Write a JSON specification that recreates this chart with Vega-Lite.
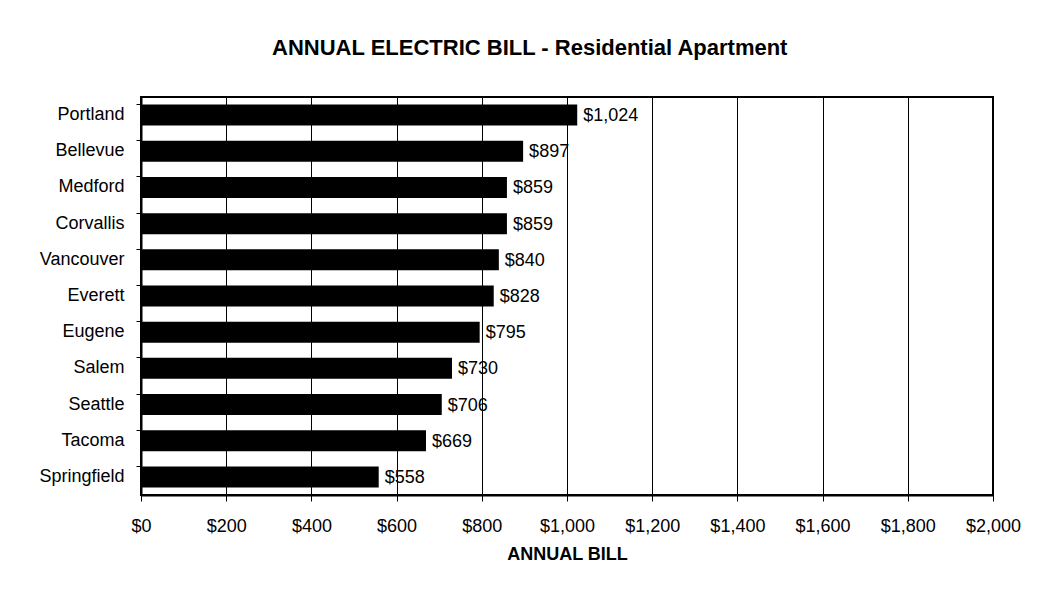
{
  "$schema": "https://vega.github.io/schema/vega-lite/v6.json",
  "autosize": "none",
  "width": 852,
  "height": 398,
  "padding": {"left": 141, "top": 97, "right": 51, "bottom": 103},
  "background": "white",
  "title": {
    "text": "ANNUAL ELECTRIC BILL - Residential Apartment",
    "font": "Liberation Sans",
    "fontSize": 22,
    "fontWeight": "bold",
    "color": "black",
    "anchor": "middle",
    "frame": "bounds",
    "offset": 37
  },
  "data": {
    "values": [
      {"city": "Portland", "bill": 1024},
      {"city": "Bellevue", "bill": 897},
      {"city": "Medford", "bill": 859},
      {"city": "Corvallis", "bill": 859},
      {"city": "Vancouver", "bill": 840},
      {"city": "Everett", "bill": 828},
      {"city": "Eugene", "bill": 795},
      {"city": "Salem", "bill": 730},
      {"city": "Seattle", "bill": 706},
      {"city": "Tacoma", "bill": 669},
      {"city": "Springfield", "bill": 558}
    ]
  },
  "encoding": {
    "y": {
      "field": "city",
      "type": "nominal",
      "sort": null,
      "scale": {"paddingInner": 0.42, "paddingOuter": 0.21},
      "axis": {
        "title": null,
        "bandPosition": 0,
        "tickSize": 5,
        "tickColor": "black",
        "tickWidth": 1,
        "domainColor": "black",
        "domainWidth": 2,
        "labelFont": "Liberation Sans",
        "labelFontSize": 18,
        "labelColor": "black",
        "labelPadding": 12,
        "grid": false
      }
    },
    "x": {
      "field": "bill",
      "type": "quantitative",
      "scale": {"domain": [0, 2000], "nice": false},
      "axis": {
        "title": "ANNUAL BILL",
        "titleFont": "Liberation Sans",
        "titleFontSize": 18,
        "titleFontWeight": "bold",
        "titleColor": "black",
        "titlePadding": 10,
        "values": [0, 200, 400, 600, 800, 1000, 1200, 1400, 1600, 1800, 2000],
        "format": "$,.0f",
        "labelFont": "Liberation Sans",
        "labelFontSize": 18,
        "labelColor": "black",
        "labelPadding": 16,
        "labelFlush": false,
        "tickSize": 6,
        "tickColor": "black",
        "domainColor": "black",
        "domainWidth": 2,
        "grid": true,
        "gridColor": "black",
        "gridWidth": 1,
        "gridOpacity": 1
      }
    }
  },
  "layer": [
    {"mark": {"type": "bar", "color": "black"}},
    {
      "mark": {
        "type": "text",
        "align": "left",
        "baseline": "middle",
        "dx": 6,
        "dy": 1,
        "font": "Liberation Sans",
        "fontSize": 18,
        "color": "black"
      },
      "encoding": {"text": {"field": "bill", "type": "quantitative", "format": "$,.0f"}}
    }
  ],
  "config": {
    "view": {"stroke": "black", "strokeWidth": 2}
  }
}
